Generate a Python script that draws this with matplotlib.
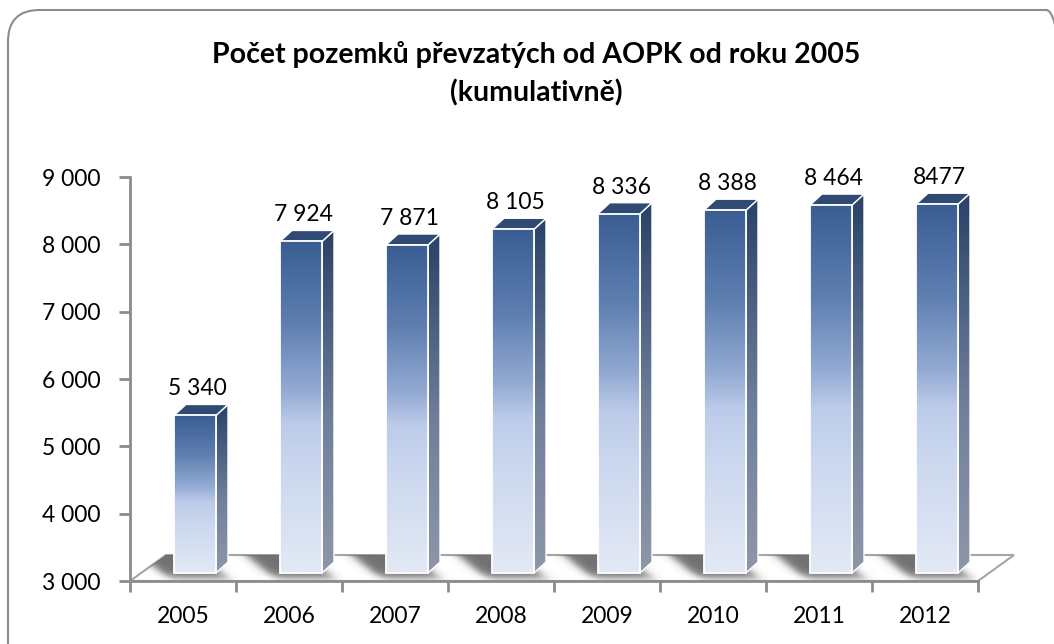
import numpy as np
import matplotlib
matplotlib.use("Agg")
import matplotlib.pyplot as plt
from matplotlib.colors import LinearSegmentedColormap
from matplotlib.patches import Polygon, FancyBboxPatch
from matplotlib.ticker import FixedLocator, FuncFormatter

# data
years = ['2005', '2006', '2007', '2008', '2009', '2010', '2011', '2012']
values = [5340, 7924, 7871, 8105, 8336, 8388, 8464, 8477]
value_labels = ['5 340', '7 924', '7 871', '8 105', '8 336', '8 388', '8 464', '8477']
title1 = 'Počet pozemků převzatých od AOPK od roku 2005'
title2 = '(kumulativně)'

plt.rcParams['font.family'] = ['Lato', 'DejaVu Sans']

W, H = 1054, 644
fig = plt.figure(figsize=(W / 100, H / 100), dpi=100)

# rounded frame (cut by the picture edge at right and bottom)
frame = FancyBboxPatch((8 / W, 1 - 700 / H), 1070 / W, 690 / H,
                       boxstyle='round,pad=0,rounding_size=0.03',
                       transform=fig.transFigure, fill=False,
                       ec='#8c8c8c', lw=1.5, mutation_aspect=W / H)
fig.patches.append(frame)

fig.text(536 / W, 1 - 55 / H, title1, ha='center', va='center',
         fontsize=20.5, fontweight='bold')
fig.text(536 / W, 1 - 93 / H, title2, ha='center', va='center',
         fontsize=20.5, fontweight='bold')

# axes placed so that 3000 sits on the front floor edge
ax_l, ax_r, ax_t, ax_b = 130, 978, 177, 581
ax = fig.add_axes([ax_l / W, 1 - ax_b / H, (ax_r - ax_l) / W, (ax_b - ax_t) / H])
ymin, ymax = 3000, 9000
n = len(years)
px_x = (ax_r - ax_l) / n            # px per category
px_y = (ax_b - ax_t) / (ymax - ymin)  # px per value unit


def dx(p):
    return p / px_x


def dy(p):
    return p / px_y


# floor
fdx, fdy = dx(36), dy(26)
floor = Polygon([(0, ymin), (n, ymin), (n + fdx, ymin + fdy), (fdx, ymin + fdy)],
                closed=True, fc='white', ec='#a6a6a6', lw=1.5, zorder=1, clip_on=False)
ax.add_patch(floor)

front_cm = LinearSegmentedColormap.from_list('front', [
    (0.0, '#e3e9f5'), (0.3, '#ccd8ef'), (0.45, '#bccbe9'), (0.55, '#93abd3'),
    (0.75, '#5f7fb1'), (1.0, '#3a5d93')])
side_cm = LinearSegmentedColormap.from_list('side', [
    (0.0, '#8e97a9'), (0.45, '#6f7f9b'), (0.75, '#485d80'), (1.0, '#2a4268')])
grad = np.linspace(0, 1, 256).reshape(-1, 1)

bar_off, bar_w = dx(44), dx(42)
bdx, bdy = dx(12), dy(11)
lift = dy(8)


def soft(t, a, b, s):
    return 0.25 * (np.tanh((t - a) / s) + 1) * (1 - np.tanh((t - b) / s))


for i, v in enumerate(values):
    x0 = i + bar_off
    x1 = x0 + bar_w
    y0 = ymin + lift
    y1 = v + lift

    # shadow on the floor, slanted back-left from the bar base
    sx = np.linspace(x0 - dx(50), x1 + bdx + dx(30), 200)
    sy = np.linspace(ymin, ymin + fdy, 60)
    gx = (sx - x0) * px_x
    gy = (sy - ymin) * px_y
    GX, GY = np.meshgrid(gx, gy)
    shift = (GY - 6) * 1.2          # lean of the cast shadow
    a = soft(GX + shift, -10, bar_w * px_x + 8, 7) * soft(GY, 3, 34, 5) * 0.9
    rgba = np.zeros((len(sy), len(sx), 4))
    rgba[..., :3] = 0.38
    rgba[..., 3] = a
    im = ax.imshow(rgba, extent=(sx[0], sx[-1], sy[0], sy[-1]), origin='lower',
                   aspect='auto', zorder=2, interpolation='bilinear')
    im.set_clip_box(fig.bbox)
    im.set_clip_path(floor)

    # side face
    side = Polygon([(x1, y0), (x1 + bdx, y0 + bdy), (x1 + bdx, y1 + bdy), (x1, y1)],
                   closed=True, fc='none', ec='white', lw=1.0, zorder=4, clip_on=False)
    ax.add_patch(side)
    im = ax.imshow(grad, cmap=side_cm, extent=(x1, x1 + bdx, y0, y1 + bdy),
                   origin='lower', aspect='auto', zorder=3)
    im.set_clip_box(fig.bbox)
    im.set_clip_path(side)

    # top face
    ax.add_patch(Polygon([(x0, y1), (x1, y1), (x1 + bdx, y1 + bdy), (x0 + bdx, y1 + bdy)],
                         closed=True, fc='#2f4b74', ec='white', lw=1.0, zorder=4,
                         clip_on=False))

    # front face
    ax.imshow(grad, cmap=front_cm, extent=(x0, x1, y0, y1), origin='lower',
              aspect='auto', zorder=5)
    ax.add_patch(Polygon([(x0, y0), (x1, y0), (x1, y1), (x0, y1)], closed=True,
                         fc='none', ec='white', lw=1.3, zorder=6))

    ax.text((x0 + x1) / 2 + dx(2), y1 + bdy + dy(5), value_labels[i],
            ha='center', va='bottom', fontsize=16.5, zorder=7, clip_on=False)

ax.set_xlim(0, n)
ax.set_ylim(ymin, ymax)
for side_name in ['top', 'right']:
    ax.spines[side_name].set_visible(False)
for side_name in ['left', 'bottom']:
    ax.spines[side_name].set_color('#8c8c8c')
    ax.spines[side_name].set_linewidth(2)
    ax.spines[side_name].set_zorder(8)
ax.patch.set_visible(False)

ax.yaxis.set_major_locator(FixedLocator(range(3000, 9001, 1000)))
ax.yaxis.set_major_formatter(FuncFormatter(lambda v, p: f'{int(v):,}'.replace(',', ' ')))
ax.xaxis.set_major_locator(FixedLocator(range(n + 1)))
ax.xaxis.set_major_formatter(FuncFormatter(lambda v, p: ''))
ax.xaxis.set_minor_locator(FixedLocator([i + 0.5 for i in range(n)]))
ax.xaxis.set_minor_formatter(FuncFormatter(lambda v, p: years[int(v)]))
ax.tick_params(axis='both', which='major', direction='out', length=8, width=2,
               color='#8c8c8c', labelsize=16.5)
ax.tick_params(axis='y', pad=13)
ax.tick_params(axis='x', which='minor', length=0, labelsize=16.5, pad=18)

fig.savefig('out.png', dpi=100)
